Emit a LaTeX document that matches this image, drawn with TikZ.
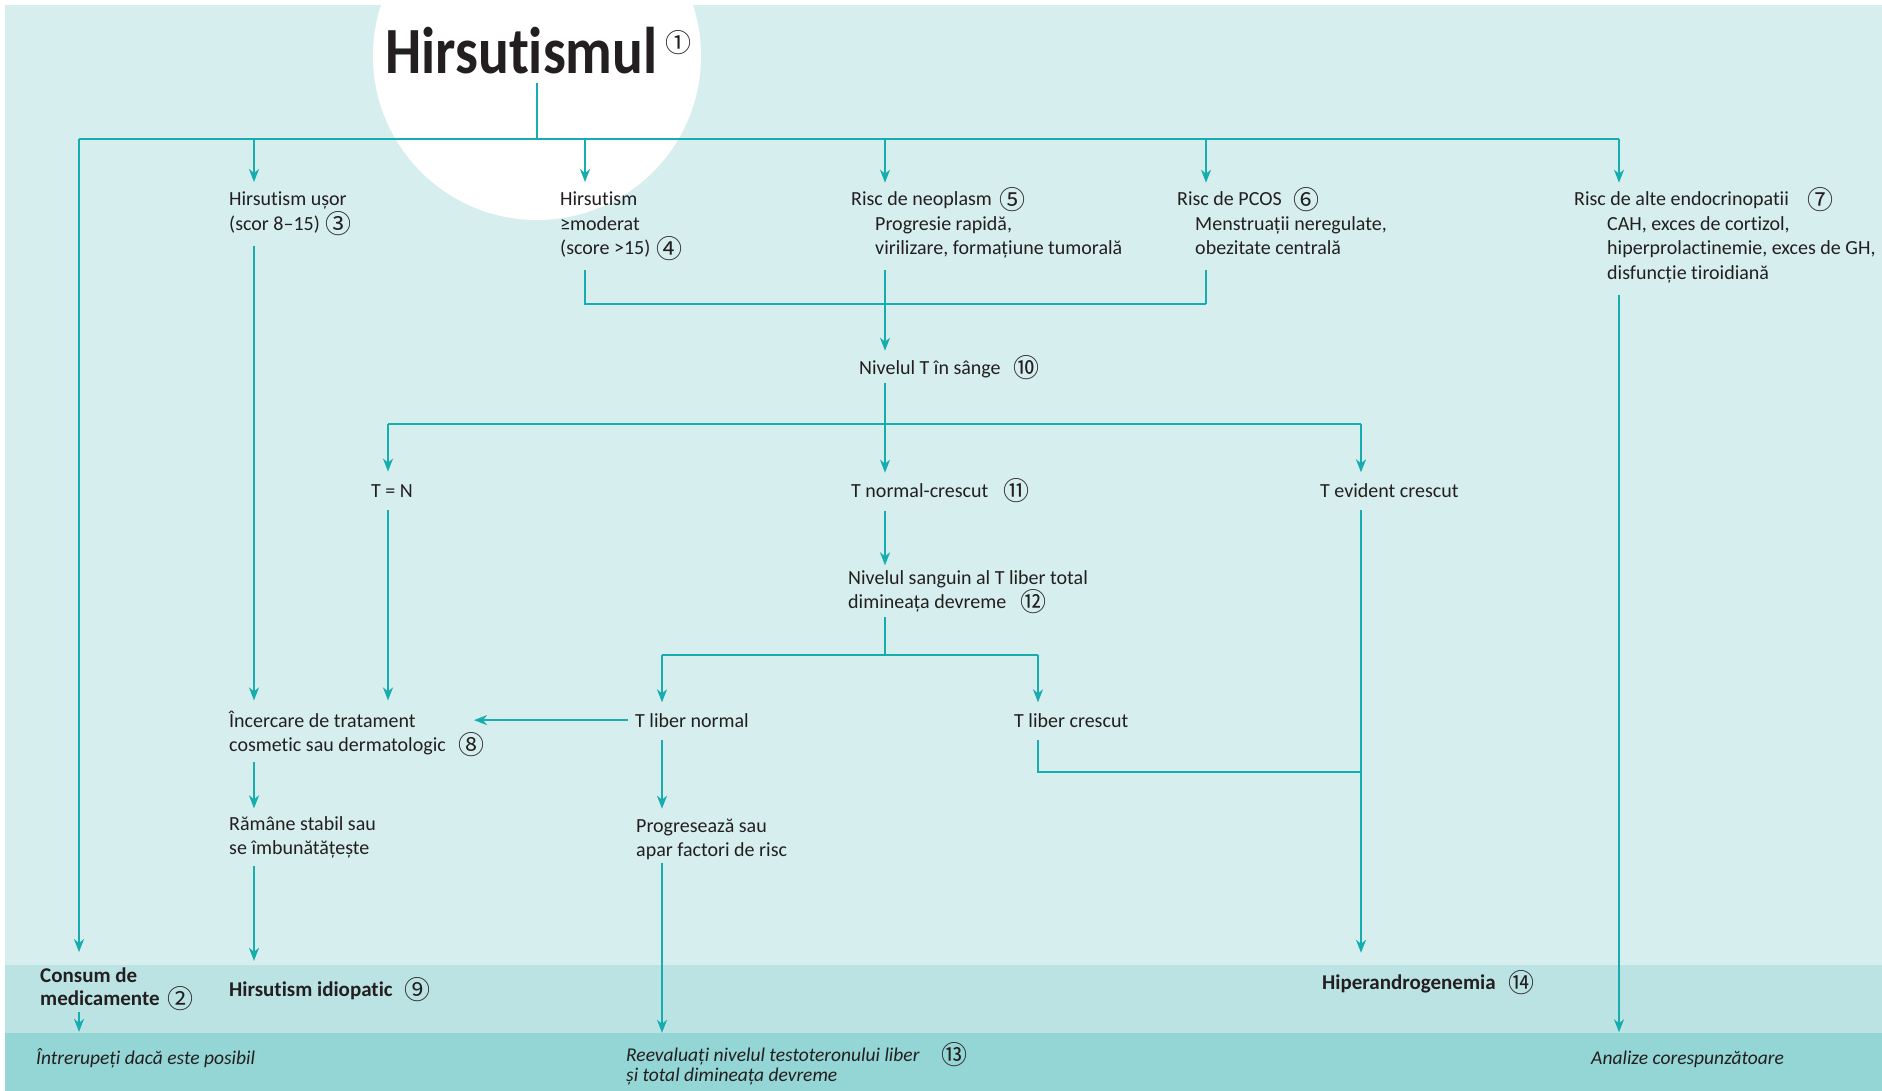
\documentclass[tikz,border=0pt]{standalone}
\usepackage{fontspec}
\setmainfont{Carlito}[Ligatures=NoCommon]
\newfontfamily\circfont{Noto Sans CJK JP}
\usetikzlibrary{arrows.meta}

\definecolor{bgLight}{HTML}{D6EEEE}
\definecolor{bgMid}{HTML}{BCE3E3}
\definecolor{bgDark}{HTML}{94D5D5}
\definecolor{flow}{HTML}{17ACAD}
\definecolor{ink}{HTML}{231F20}

% circled reference numbers, always thin and upright
\newcommand{\cnumraw}[1]{{\circfont\mdseries\upshape\fontsize{26}{26}\selectfont\raisebox{-3.4pt}{#1}}}
\newcommand{\cnum}[2][9pt]{\hspace{#1}\cnumraw{#2}}

\begin{document}
\begin{tikzpicture}[x=1pt, y=-1pt,
  every node/.style={inner sep=0pt, anchor=base west, align=left, text=ink,
    font=\fontsize{20}{24.4}\selectfont},
  bld/.style={font=\bfseries\fontsize{21}{23}\selectfont},
  itl/.style={font=\itshape\fontsize{19.5}{20}\selectfont},
  conn/.style={draw=flow, line width=1.7pt},
  arr/.style={conn, -{Stealth[length=13pt, width=10pt, inset=4pt]}}]

\useasboundingbox (0,0) rectangle (1882,1091);

% background bands and the white disc behind the title
\fill[white] (0,0) rectangle (1882,1091);
\fill[bgLight] (5,5) rectangle (1882,965);
\fill[bgMid] (5,965) rectangle (1882,1033);
\fill[bgDark] (5,1033) rectangle (1882,1091);
\begin{scope}
  \clip (5,5) rectangle (1882,965);
  \fill[white] (537,56) circle[radius=164];
\end{scope}

% text (multi-line nodes are placed by the baseline of their last line)
\node[font=\bfseries\fontsize{66}{66}\selectfont] (title) at (385,74)
  {\scalebox{0.87}[1]{Hirsutismul}\hspace{8pt}\raisebox{25pt}{\cnumraw{①}}};

\node (usor) at (229,230.4) {Hirsutism ușor\\(scor 8–15)\cnum[6pt]{③}};
\node (moderat) at (560,254.8) {Hirsutism\\≥moderat\\(score >15)\cnum[6pt]{④}};
\node (neo) at (851,254.8) {Risc de neoplasm\cnum[8pt]{⑤}\\
  \hspace*{24pt}Progresie rapidă,\\
  \hspace*{24pt}virilizare, formațiune tumorală};
\node (pcos) at (1177,254.8) {Risc de PCOS\cnum[12pt]{⑥}\\
  \hspace*{18pt}Menstruații neregulate,\\
  \hspace*{18pt}obezitate centrală};
\node (endo) at (1574,279.2) {Risc de alte endocrinopatii\cnum[19pt]{⑦}\\
  \hspace*{33pt}CAH, exces de cortizol,\\
  \hspace*{33pt}hiperprolactinemie, exces de GH,\\
  \hspace*{33pt}disfuncție tiroidiană};

\node (nivT) at (859,374) {Nivelul T în sânge\cnum[13pt]{⑩}};

\node (tN) at (371,497) {T = N};
\node (tnc) at (851,497) {T normal-crescut\cnum[15pt]{⑪}};
\node (tev) at (1320,497) {T evident crescut};

\node (nsang) at (848,608.4) {Nivelul sanguin al T liber total\\dimineața devreme\cnum[14pt]{⑫}};

\node (incerc) at (229,751.4) {Încercare de tratament\\cosmetic sau dermatologic\cnum[13pt]{⑧}};
\node (tln) at (635,727) {T liber normal};
\node (tlc) at (1014,727) {T liber crescut};

\node (ramane) at (229,854.4) {Rămâne stabil sau\\se îmbunătățește};
\node (progr) at (636,856.4) {Progresează sau\\apar factori de risc};

\node[bld] (consum) at (40,1005) {Consum de\\medicamente\cnum[8pt]{②}};
\node[bld] (idio) at (229,996) {Hirsutism idiopatic\cnum[12pt]{⑨}};
\node[bld] (hiper) at (1322,989) {Hiperandrogenemia\cnum[13pt]{⑭}};

\node[itl] (intrer) at (36,1064) {Întrerupeți dacă este posibil};
\node[itl] (reev) at (626,1081) {Reevaluați nivelul testoteronului liber\cnum[22pt]{⑬}\\și total dimineața devreme};
\node[itl] (analize) at (1591,1064) {Analize corespunzătoare};

% connector columns and junction rows
\coordinate (cA) at (79,0);
\coordinate (cU) at (254,0);
\coordinate (cTN) at (388,0);
\coordinate (cM) at (585,0);
\coordinate (cL) at (662,0);
\coordinate (cN) at (885,0);
\coordinate (cC) at (1038,0);
\coordinate (cP) at (1206,0);
\coordinate (cTE) at (1361,0);
\coordinate (cE) at (1619,0);
\coordinate (incTip) at (474,0);
\coordinate (tr) at (537,139);
\coordinate (j1) at (0,304);
\coordinate (j2) at (0,424);
\coordinate (j3) at (0,655);
\coordinate (j4) at (0,772);

% main trunk
\draw[conn, shorten <=8pt] (title.south -| tr) -- (tr);
\draw[conn] (cA |- tr) -- (cE |- tr);
\draw[arr, shorten >=10pt] (cU |- tr) -- (cU |- usor.north);
\draw[arr, shorten >=10pt] (cM |- tr) -- (cM |- moderat.north);
\draw[arr, shorten >=4.5pt] (cN |- tr) -- (cN |- neo.north);
\draw[arr, shorten >=4.5pt] (cP |- tr) -- (cP |- pcos.north);
\draw[arr, shorten >=4.5pt] (cE |- tr) -- (cE |- endo.north);
\draw[arr, shorten >=15pt] (cA |- tr) -- (cA |- consum.north);

% first row merges into the blood T level
\draw[conn, shorten <=9pt] (cM |- moderat.south) |- (cP |- j1);
\draw[conn, shorten <=15pt] (cP |- pcos.south) -- (cP |- j1);
\draw[arr, shorten <=11pt, shorten >=4.5pt] (cN |- neo.south) -- (cN |- nivT.north);
\draw[arr, shorten <=12pt, shorten >=18pt] (cE |- endo.south) -- (cE |- analize.north);
\draw[arr, shorten <=10pt, shorten >=10pt] (cU |- usor.south) -- (cU |- incerc.north);

% split by T level
\draw[conn, shorten <=3.6pt] (cN |- nivT.south) -- (cN |- j2);
\draw[conn] (cTN |- j2) -- (cTE |- j2);
\draw[arr, shorten >=12.4pt] (cTN |- j2) -- (cTN |- tN.north);
\draw[arr, shorten >=5.5pt] (cN |- j2) -- (cN |- tnc.north);
\draw[arr, shorten >=10.6pt] (cTE |- j2) -- (cTE |- tev.north);

\draw[arr, shorten <=13pt, shorten >=10pt] (cTN |- tN.south) -- (cTN |- incerc.north);
\draw[arr, shorten <=8.6pt, shorten >=4.6pt] (cN |- tnc.south) -- (cN |- nsang.north);

% free T split
\draw[conn, shorten <=3.2pt] (cN |- nsang.south) -- (cN |- j3);
\draw[conn] (cL |- j3) -- (cC |- j3);
\draw[arr, shorten >=10.6pt] (cL |- j3) -- (cL |- tln.north);
\draw[arr, shorten >=10.6pt] (cC |- j3) -- (cC |- tlc.north);

\draw[arr, shorten <=7pt] (tln.west) -- (tln.west -| incTip);
\draw[arr, shorten <=13pt, shorten >=9.6pt] (cL |- tln.south) -- (cL |- progr.north);
\draw[arr, shorten <=3.6pt, shorten >=9.4pt] (cL |- progr.south) -- (cL |- reev.north);
\draw[conn, shorten <=13pt] (cC |- tlc.south) |- (cTE |- j4);
\draw[arr, shorten <=13pt, shorten >=17.4pt] (cTE |- tev.south) -- (cTE |- hiper.north);

% idiopathic branch
\draw[arr, shorten <=5.2pt, shorten >=7.6pt] (cU |- incerc.south) -- (cU |- ramane.north);
\draw[arr, shorten <=7.6pt, shorten >=16.4pt] (cU |- ramane.south) -- (cU |- idio.north);

% drug use
\draw[arr, shorten <=1pt, shorten >=16pt] (cA |- consum.south) -- (cA |- intrer.north);
\end{tikzpicture}
\end{document}
